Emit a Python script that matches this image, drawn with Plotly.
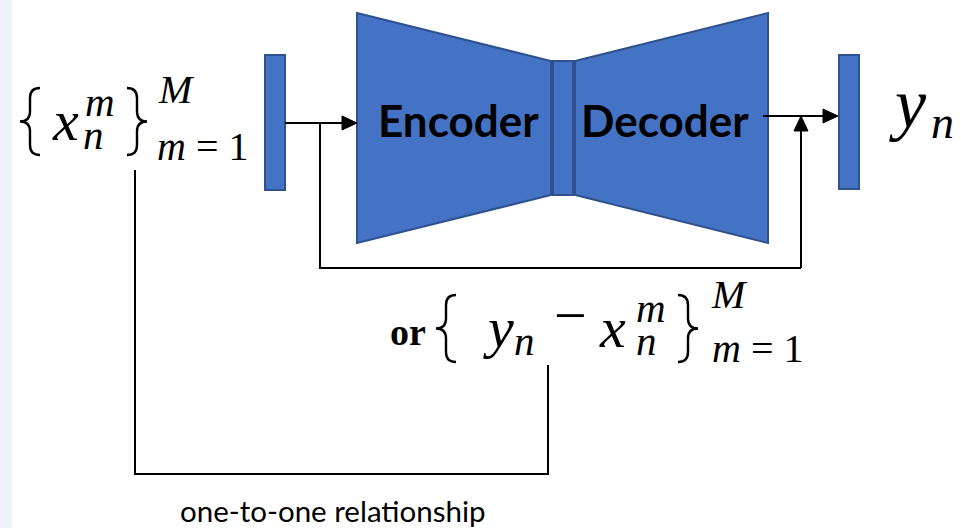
import plotly.graph_objects as go

W, H = 961, 528

# ---- diagram geometry (pixel space, y downward) ----
STRIP = [0, 12]
LEFT_BAR = [265, 55, 285, 190]
MID_BAR = [553, 61, 573, 195]
RIGHT_BAR = [839, 55, 859, 189]
ENCODER = [(357, 13), (551, 61), (551, 195), (357, 243)]
DECODER = [(575, 61), (768, 13), (768, 243), (575, 195)]

# arrows: (x0,y0) -> (x1,y1) tip
ARROWS = [((285, 123), (357, 123)), ((763, 116), (838, 116)), ((801, 268), (801, 116))]
POLYLINES = [
    [(320, 123), (320, 268), (801, 268)],
    [(135, 170), (135, 474), (548, 474), (548, 365)],
]

# braces: x0, x1, y0, y1, side
BRACES = [(20, 40, 88, 155, "left"), (127, 147, 88, 155, "right"),
          (436, 456, 295, 362, "left"), (678, 698, 295, 362, "right")]

# text labels
BLOCK_LABELS = ["Encoder", "Decoder"]
BLOCK_X = [458, 665]
BLOCK_BASE = 137
BLOCK_SIZE = 44

CAPTION = "one-to-one relationship"
CAPTION_X = 333
CAPTION_BASE = 522
CAPTION_SIZE = 29.5

# math pieces (text, center x, baseline y, font size)
MATH_TEXT = ["<i>x</i>", "<i>m</i>", "<i>n</i>", "<i>M</i>", "<i>m</i> = 1",
             "<i>y</i>", "<i>n</i>",
             "<b>or</b>", "<i>y</i>", "<i>n</i>", "−", "<i>x</i>", "<i>m</i>", "<i>n</i>",
             "<i>M</i>", "<i>m</i> = 1"]
MATH_X = [65, 100, 93, 176, 202,
          908, 942,
          408, 498, 524, 570, 612, 651, 646,
          729, 757]
MATH_BASE = [140, 116, 149, 103, 160,
             127, 138,
             345, 347, 355, 335, 347, 322, 355,
             308, 362]
MATH_SIZE = [58, 41, 41, 40, 40,
             70, 46,
             38, 58, 41, 58, 58, 41, 41,
             40, 40]

FILL = "#4472C4"
EDGE = "#2F528F"


def poly_path(pts, close=True):
    s = "M" + " L".join(f"{x},{y}" for x, y in pts)
    return s + (" Z" if close else "")


def brace_path(x0, x1, y0, y1, side):
    mid = (y0 + y1) / 2
    r = (x1 - x0) / 2
    xm = (x0 + x1) / 2
    outer, tip = (x1, x0) if side == "left" else (x0, x1)
    return (f"M{outer},{y0} Q{xm},{y0} {xm},{y0 + r} L{xm},{mid - r} "
            f"Q{xm},{mid} {tip},{mid} Q{xm},{mid} {xm},{mid + r} "
            f"L{xm},{y1 - r} Q{xm},{y1} {outer},{y1}")


shapes = []
shapes.append(dict(type="rect", x0=STRIP[0], x1=STRIP[1], y0=0, y1=H,
                   fillcolor="#EEF2FB", line=dict(width=0), layer="below"))
for b in (LEFT_BAR, MID_BAR, RIGHT_BAR):
    shapes.append(dict(type="rect", x0=b[0], y0=b[1], x1=b[2], y1=b[3],
                       fillcolor=FILL, line=dict(color=EDGE, width=2)))
for poly in (ENCODER, DECODER):
    shapes.append(dict(type="path", path=poly_path(poly), fillcolor=FILL,
                       line=dict(color=EDGE, width=2)))
for pl in POLYLINES:
    shapes.append(dict(type="path", path=poly_path(pl, close=False),
                       line=dict(color="black", width=2)))

HEAD_LEN, HEAD_HALF = 15, 7
for (x0, y0), (x1, y1) in ARROWS:
    dx, dy = x1 - x0, y1 - y0
    L = (dx * dx + dy * dy) ** 0.5
    ux, uy = dx / L, dy / L
    bx, by = x1 - ux * HEAD_LEN, y1 - uy * HEAD_LEN
    shapes.append(dict(type="line", x0=x0, y0=y0, x1=bx + ux * 2, y1=by + uy * 2,
                       line=dict(color="black", width=2)))
    px, py = -uy, ux
    tri = [(x1, y1), (bx + px * HEAD_HALF, by + py * HEAD_HALF),
           (bx - px * HEAD_HALF, by - py * HEAD_HALF)]
    shapes.append(dict(type="path", path=poly_path(tri), fillcolor="black",
                       line=dict(color="black", width=1)))

for x0, x1, y0, y1, side in BRACES:
    shapes.append(dict(type="path", path=brace_path(x0, x1, y0, y1, side),
                       line=dict(color="black", width=2.4)))

annotations = []
K_SERIF = 0.3375
K_LATO = 0.387
for txt, x in zip(BLOCK_LABELS, BLOCK_X):
    annotations.append(dict(text=txt, x=x, y=BLOCK_BASE - K_LATO * BLOCK_SIZE,
                            xref="x", yref="y", showarrow=False,
                            xanchor="center", yanchor="middle",
                            font=dict(family="Lato", size=BLOCK_SIZE, color="black",
                                      weight="bold")))
annotations.append(dict(text=CAPTION, x=CAPTION_X, y=CAPTION_BASE - K_LATO * CAPTION_SIZE,
                        xref="x", yref="y", showarrow=False,
                        xanchor="center", yanchor="middle",
                        font=dict(family="Lato", size=CAPTION_SIZE, color="black")))
for txt, x, base, fs in zip(MATH_TEXT, MATH_X, MATH_BASE, MATH_SIZE):
    annotations.append(dict(text=txt, x=x, y=base - K_SERIF * fs,
                            xref="x", yref="y", showarrow=False,
                            xanchor="center", yanchor="middle",
                            font=dict(family="Liberation Serif", size=fs, color="black")))

fig = go.Figure()
fig.update_layout(
    width=W, height=H, margin=dict(l=0, r=0, t=0, b=0),
    paper_bgcolor="white", plot_bgcolor="white",
    xaxis=dict(range=[0, W], visible=False, fixedrange=True),
    yaxis=dict(range=[H, 0], visible=False, fixedrange=True),
    shapes=shapes, annotations=annotations, showlegend=False,
)
fig.write_html(
    "out.html",
    config={"displayModeBar": False},
    post_script="document.body.style.margin='0';document.body.style.overflow='hidden';",
)
